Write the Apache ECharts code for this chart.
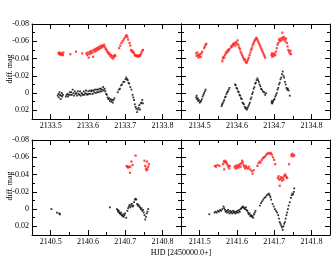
<!DOCTYPE html>
<html><head><meta charset="utf-8">
<script src="https://cdn.jsdelivr.net/npm/echarts@6/dist/echarts.min.js"></script>
<style>html,body{margin:0;padding:0;background:#fff}#c{width:332px;height:266px}</style>
</head><body><div id="c"></div>
<script>
// ---- data ----
const tlRange = [2133.45, 2133.85];
const trRange = [2134.45, 2134.85];
const blRange = [2140.45, 2140.85];
const brRange = [2141.45, 2141.85];
const tlXTicks = [2133.5, 2133.6, 2133.7, 2133.8];
const trXTicks = [2134.5, 2134.6, 2134.7, 2134.8];
const blXTicks = [2140.5, 2140.6, 2140.7, 2140.8];
const brXTicks = [2141.5, 2141.6, 2141.7, 2141.8];
const tlXMinor = [2133.55, 2133.65, 2133.75];
const trXMinor = [2134.55, 2134.65, 2134.75];
const blXMinor = [2140.55, 2140.65, 2140.75];
const brXMinor = [2141.55, 2141.65, 2141.75];
const yRange = [-0.08, 0.03];
const yTicks = [-0.08, -0.06, -0.04, -0.02, 0, 0.02];
const yMinor = [-0.07, -0.05, -0.03, -0.01, 0.01];
const yTitle = 'diff. mag';
const xTitle = 'HJD [2450000.0+]';

const tlBlack = [[2133.519,0.003],[2133.521,0.001],[2133.522,0.005],[2133.524,-0.001],[2133.525,0.002],[2133.527,0.007],[2133.528,0.003],[2133.530,0.000],[2133.531,0.004],[2133.533,0.002],
[2133.541,0.004],[2133.543,0.002],[2133.545,0.001],[2133.547,0.004],[2133.549,0.002],[2133.551,-0.001],[2133.553,0.002],[2133.555,-0.001],[2133.557,0.002],[2133.559,-0.004],[2133.561,0.000],[2133.563,0.003],[2133.565,-0.002],[2133.567,0.001],[2133.569,0.000],[2133.571,0.003],[2133.573,-0.002],[2133.575,0.001],[2133.577,0.002],[2133.579,-0.002],[2133.581,0.003],[2133.583,0.000],[2133.585,0.001],[2133.587,0.002],[2133.589,-0.002],[2133.591,0.002],[2133.593,0.000],[2133.595,-0.003],[2133.597,0.001],[2133.599,0.002],[2133.601,-0.002],[2133.603,0.001],[2133.605,-0.003],[2133.607,0.001],[2133.609,-0.002],[2133.611,-0.003],[2133.613,0.001],[2133.615,-0.003],[2133.617,-0.001],[2133.619,-0.004],[2133.621,0.000],[2133.623,-0.004],[2133.625,-0.001],[2133.627,-0.004],[2133.629,-0.001],[2133.631,-0.005],[2133.633,-0.002],[2133.635,-0.005],[2133.637,-0.002],[2133.639,-0.004],[2133.641,-0.007],[2133.643,-0.003],[2133.645,-0.005],[2133.647,-0.002],
[2133.649,0.001],[2133.651,0.002],[2133.653,0.005],[2133.655,0.007],[2133.657,0.006],[2133.659,0.009],[2133.661,0.007],[2133.663,0.010],[2133.665,0.008],[2133.667,0.011],[2133.669,0.008],[2133.671,0.006],
[2133.680,-0.001],[2133.683,-0.004],[2133.686,-0.005],[2133.689,-0.009],[2133.692,-0.010],[2133.695,-0.013],[2133.698,-0.013],[2133.701,-0.016],[2133.703,-0.018],[2133.705,-0.016],[2133.707,-0.015],[2133.709,-0.012],[2133.711,-0.011],
[2133.714,-0.007],[2133.717,-0.004],[2133.720,0.002],[2133.722,0.005],[2133.724,0.008],[2133.726,0.013],[2133.728,0.016],[2133.730,0.018],[2133.732,0.022],[2133.734,0.019],[2133.736,0.017],[2133.738,0.014],[2133.740,0.019],[2133.742,0.012],[2133.744,0.011],[2133.746,0.008],[2133.748,0.012]];

const tlRed = [[2133.521,-0.046],[2133.523,-0.047],[2133.524,-0.045],[2133.526,-0.046],[2133.527,-0.044],[2133.529,-0.046],[2133.531,-0.045],[2133.533,-0.044],[2133.534,-0.047],
[2133.553,-0.045],[2133.568,-0.048],[2133.585,-0.046],
[2133.596,-0.046],[2133.598,-0.044],[2133.600,-0.047],[2133.602,-0.041],[2133.604,-0.045],[2133.606,-0.048],[2133.608,-0.046],[2133.610,-0.049],[2133.612,-0.047],[2133.614,-0.042],[2133.616,-0.050],[2133.618,-0.048],[2133.620,-0.051],[2133.622,-0.049],[2133.624,-0.052],[2133.626,-0.050],[2133.628,-0.053],[2133.630,-0.051],[2133.632,-0.054],[2133.634,-0.052],[2133.636,-0.055],[2133.638,-0.053],[2133.640,-0.055],[2133.642,-0.054],[2133.644,-0.056],[2133.646,-0.053],[2133.648,-0.051],[2133.650,-0.050],[2133.652,-0.048],[2133.654,-0.047],[2133.656,-0.045],[2133.658,-0.046],[2133.660,-0.043],[2133.662,-0.044],[2133.664,-0.041],[2133.666,-0.043],[2133.668,-0.040],[2133.670,-0.042],[2133.672,-0.044],[2133.674,-0.043],
[2133.684,-0.052],[2133.687,-0.055],[2133.690,-0.058],[2133.693,-0.060],[2133.696,-0.062],[2133.699,-0.064],[2133.702,-0.066],[2133.704,-0.067],[2133.706,-0.065],[2133.708,-0.062],
[2133.712,-0.058],[2133.714,-0.055],[2133.716,-0.050],[2133.718,-0.048],[2133.720,-0.049],[2133.722,-0.047],[2133.724,-0.046],[2133.726,-0.044],[2133.728,-0.043],[2133.730,-0.044],[2133.732,-0.043],[2133.734,-0.042],[2133.736,-0.043],[2133.738,-0.044],[2133.740,-0.043],[2133.742,-0.045],[2133.744,-0.047],[2133.746,-0.049],[2133.748,-0.050]];

const trBlack = [[2134.491,0.005],[2134.492,0.003],[2134.493,0.007],[2134.495,0.006],[2134.496,0.009],[2134.498,0.008],[2134.500,0.011],[2134.502,0.010],[2134.504,0.009],[2134.506,0.007],[2134.508,0.004],[2134.510,0.002],[2134.512,0.000],[2134.514,-0.002],[2134.516,-0.004],
[2134.559,0.015],[2134.560,0.013],[2134.562,0.012],[2134.564,0.010],[2134.566,0.008],[2134.568,0.005],[2134.570,0.004],[2134.572,0.001],[2134.574,-0.001],[2134.576,-0.002],[2134.578,-0.004],[2134.580,-0.006],
[2134.595,-0.010],[2134.597,-0.009],[2134.599,-0.006],[2134.601,-0.005],[2134.603,-0.002],[2134.605,-0.001],[2134.607,0.002],[2134.609,0.003],[2134.611,0.006],[2134.613,0.007],[2134.615,0.011],[2134.617,0.012],[2134.619,0.013],[2134.621,0.016],[2134.623,0.018],[2134.625,0.017],[2134.627,0.019],[2134.629,0.017],[2134.631,0.015],
[2134.633,0.013],[2134.635,0.011],[2134.637,0.007],[2134.639,0.005],[2134.641,0.001],[2134.643,-0.001],[2134.645,-0.005],[2134.647,-0.007],[2134.649,-0.011],[2134.651,-0.012],[2134.653,-0.015],[2134.655,-0.017],[2134.657,-0.015],[2134.659,-0.013],[2134.661,-0.010],[2134.663,-0.008],[2134.665,-0.005],[2134.667,-0.004],[2134.670,-0.002],[2134.673,-0.001],[2134.676,0.002],[2134.678,0.000],
[2134.693,0.011],[2134.694,0.009],[2134.695,0.012],[2134.697,0.010],[2134.699,0.008],[2134.701,0.007],[2134.703,0.004],[2134.705,0.002],[2134.707,0.000],[2134.709,-0.004],[2134.711,-0.006],[2134.713,-0.010],[2134.715,-0.012],[2134.717,-0.016],[2134.719,-0.018],[2134.721,-0.022],[2134.723,-0.025],[2134.725,-0.020],[2134.727,-0.018],[2134.729,-0.013],[2134.731,-0.010],[2134.733,-0.006],[2134.735,-0.004],[2134.737,-0.005],[2134.739,-0.003],[2134.742,0.003]];

const trRed = [[2134.491,-0.046],[2134.492,-0.043],[2134.494,-0.047],[2134.496,-0.044],[2134.497,-0.041],[2134.499,-0.043],[2134.501,-0.045],[2134.503,-0.042],[2134.505,-0.046],[2134.507,-0.048],[2134.512,-0.052],[2134.514,-0.054],[2134.516,-0.056],[2134.518,-0.057],
[2134.561,-0.037],[2134.562,-0.040],[2134.564,-0.042],[2134.566,-0.041],[2134.568,-0.044],[2134.570,-0.046],[2134.572,-0.048],[2134.574,-0.047],[2134.576,-0.050],[2134.578,-0.049],[2134.580,-0.051],
[2134.584,-0.053],[2134.586,-0.055],[2134.588,-0.054],[2134.590,-0.057],[2134.592,-0.056],[2134.594,-0.058],[2134.596,-0.055],[2134.598,-0.059],[2134.600,-0.057],[2134.602,-0.061],[2134.604,-0.056],
[2134.606,-0.053],[2134.608,-0.051],[2134.610,-0.048],[2134.612,-0.046],[2134.614,-0.044],[2134.616,-0.042],[2134.618,-0.040],[2134.620,-0.038],[2134.622,-0.039],[2134.624,-0.036],[2134.626,-0.035],[2134.628,-0.037],
[2134.630,-0.039],[2134.632,-0.041],[2134.634,-0.044],[2134.636,-0.047],[2134.638,-0.050],[2134.640,-0.052],[2134.642,-0.055],[2134.644,-0.057],[2134.646,-0.059],[2134.648,-0.061],[2134.650,-0.062],[2134.652,-0.064],[2134.654,-0.063],[2134.656,-0.061],
[2134.658,-0.059],[2134.660,-0.057],[2134.662,-0.055],[2134.664,-0.053],[2134.666,-0.051],[2134.668,-0.049],[2134.670,-0.047],[2134.672,-0.045],[2134.674,-0.043],[2134.676,-0.041],
[2134.693,-0.044],[2134.694,-0.046],[2134.695,-0.042],[2134.697,-0.045],[2134.699,-0.043],[2134.701,-0.046],[2134.703,-0.044],[2134.705,-0.048],
[2134.707,-0.052],[2134.709,-0.056],[2134.711,-0.058],[2134.713,-0.062],[2134.715,-0.060],[2134.717,-0.063],[2134.719,-0.061],[2134.721,-0.064],[2134.722,-0.070],[2134.724,-0.062],[2134.726,-0.065],[2134.728,-0.063],[2134.730,-0.060],[2134.732,-0.063],[2134.734,-0.058],
[2134.736,-0.054],[2134.738,-0.050],[2134.740,-0.048],[2134.742,-0.046],[2134.744,-0.049],[2134.745,-0.045]];

const blBlack = [[2140.502,0.000],[2140.517,0.004],[2140.523,0.005],[2140.525,0.006],
[2140.659,-0.002],
[2140.678,0.000],[2140.680,0.001],[2140.681,0.003],[2140.683,0.002],[2140.684,0.004],[2140.686,0.005],[2140.688,0.006],[2140.689,0.004],[2140.691,0.007],[2140.693,0.008],[2140.695,0.006],[2140.696,0.009],[2140.698,0.007],[2140.700,0.005],[2140.703,0.010],
[2140.706,0.002],[2140.708,-0.001],[2140.710,-0.003],[2140.712,-0.005],[2140.714,-0.002],[2140.716,-0.004],[2140.718,-0.006],[2140.720,-0.003],[2140.722,-0.004],[2140.724,-0.008],[2140.726,-0.011],[2140.728,-0.012],[2140.730,-0.011],[2140.732,-0.006],[2140.734,-0.004],[2140.736,-0.005],[2140.738,-0.003],[2140.740,-0.002],[2140.742,0.000],[2140.744,-0.001],[2140.746,0.002],[2140.748,0.001],[2140.750,0.004],[2140.752,0.007],[2140.754,0.012],[2140.756,0.009],[2140.758,0.005],[2140.760,0.003],[2140.762,0.000]];

const blRed = [[2140.704,-0.050],[2140.706,-0.049],[2140.708,-0.048],[2140.710,-0.049],[2140.713,-0.042],[2140.714,-0.049],[2140.717,-0.055],[2140.720,-0.051],[2140.728,-0.062],
[2140.752,-0.056],[2140.754,-0.050],[2140.756,-0.047],[2140.757,-0.045],[2140.759,-0.055],[2140.760,-0.046],[2140.762,-0.049],[2140.764,-0.052]];

const brBlack = [[2141.526,0.006],[2141.540,0.004],[2141.543,0.003],[2141.546,0.004],[2141.549,0.002],[2141.552,0.003],[2141.555,0.001],[2141.558,0.002],[2141.561,0.000],[2141.564,-0.003],[2141.566,-0.001],[2141.568,0.001],[2141.570,0.003],[2141.572,0.002],[2141.574,0.004],[2141.576,0.001],[2141.578,0.003],[2141.580,0.005],[2141.582,0.002],[2141.584,0.004],[2141.586,0.003],[2141.588,0.005],[2141.590,0.002],[2141.592,0.004],[2141.594,0.003],[2141.596,0.005],[2141.598,0.003],[2141.600,0.004],[2141.602,0.002],[2141.604,0.004],[2141.606,0.001],[2141.608,0.003],[2141.610,0.000],[2141.612,-0.001],[2141.614,-0.002],[2141.616,-0.003],[2141.618,-0.002],[2141.620,-0.001],[2141.622,0.000],[2141.624,-0.002],[2141.626,0.001],[2141.628,0.002],[2141.630,0.004],[2141.632,0.006],[2141.634,0.005],[2141.636,0.008],[2141.638,0.007],[2141.640,0.009],[2141.642,0.008],[2141.644,0.010],[2141.646,0.006],[2141.648,0.004],[2141.650,0.002],
[2141.662,-0.004],[2141.665,-0.007],[2141.668,-0.009],[2141.671,-0.011],[2141.674,-0.013],[2141.677,-0.014],[2141.680,-0.016],[2141.683,-0.017],[2141.686,-0.018],[2141.688,-0.016],[2141.690,-0.014],[2141.692,-0.011],
[2141.696,-0.006],[2141.699,-0.003],[2141.702,0.000],[2141.705,0.002],[2141.708,0.004],[2141.711,0.007],[2141.713,0.011],[2141.715,0.015],[2141.717,0.017],[2141.719,0.019],[2141.721,0.021],[2141.723,0.024],[2141.725,0.020],[2141.727,0.017],[2141.729,0.015],[2141.731,0.011],[2141.733,0.007],[2141.735,0.004],[2141.737,0.000],[2141.739,-0.004],[2141.742,-0.008],[2141.745,-0.013],[2141.747,-0.016],[2141.749,-0.018],[2141.751,-0.017],[2141.753,-0.020],[2141.754,-0.024]];

const brRed = [[2141.541,-0.050],[2141.544,-0.049],[2141.548,-0.051],[2141.553,-0.050],
[2141.563,-0.052],[2141.565,-0.055],[2141.567,-0.056],[2141.569,-0.054],[2141.571,-0.055],[2141.573,-0.053],[2141.575,-0.051],[2141.566,-0.046],[2141.577,-0.049],[2141.579,-0.047],[2141.581,-0.050],
[2141.594,-0.048],[2141.596,-0.050],[2141.598,-0.047],[2141.600,-0.049],[2141.602,-0.051],[2141.604,-0.048],[2141.606,-0.050],[2141.608,-0.052],[2141.610,-0.049],[2141.612,-0.053],[2141.614,-0.056],[2141.616,-0.054],[2141.618,-0.051],[2141.620,-0.049],[2141.622,-0.047],[2141.624,-0.050],[2141.626,-0.048],
[2141.630,-0.047],[2141.632,-0.049],[2141.636,-0.046],[2141.640,-0.044],[2141.642,-0.041],[2141.645,-0.045],
[2141.655,-0.050],[2141.658,-0.053],[2141.661,-0.055],[2141.664,-0.054],[2141.667,-0.057],[2141.670,-0.059],[2141.673,-0.060],[2141.676,-0.061],[2141.679,-0.063],[2141.682,-0.064],[2141.685,-0.065],[2141.688,-0.064],[2141.691,-0.065],[2141.694,-0.063],[2141.697,-0.060],[2141.700,-0.057],[2141.703,-0.052],
[2141.710,-0.036],[2141.712,-0.038],[2141.714,-0.034],[2141.715,-0.027],[2141.717,-0.035],[2141.719,-0.037],[2141.721,-0.033],[2141.723,-0.036],[2141.725,-0.034],[2141.727,-0.038],[2141.729,-0.040],[2141.731,-0.039],[2141.733,-0.037],[2141.735,-0.036],
[2141.740,-0.052],[2141.746,-0.062],[2141.748,-0.064],[2141.750,-0.061],[2141.752,-0.063],[2141.754,-0.062]];

// ---- layout ----
const FONT = 'Liberation Serif';
const panels = [
  {grid:{left:32,top:24,width:149,height:95}, xr:tlRange, xt:tlXTicks, xm:tlXMinor, black:tlBlack, red:tlRed, yLabels:true},
  {grid:{left:181,top:24,width:149,height:95}, xr:trRange, xt:trXTicks, xm:trXMinor, black:trBlack, red:trRed, yLabels:false},
  {grid:{left:32,top:140,width:149,height:95}, xr:blRange, xt:blXTicks, xm:blXMinor, black:blBlack, red:blRed, yLabels:true},
  {grid:{left:181,top:140,width:149,height:95}, xr:brRange, xt:brXTicks, xm:brXMinor, black:brBlack, red:brRed, yLabels:false}
];
const lineStyle = {color:'#000', width:1};
const grids = [], xAxes = [], yAxes = [], series = [];
panels.forEach((p, gi) => {
  grids.push(Object.assign({containLabel:false}, p.grid));
  const xBase = {type:'value', gridIndex:gi, min:p.xr[0], max:p.xr[1], splitLine:{show:false}};
  const mk = (base, pos, ticks, len, showLine, labels, fmt) => Object.assign({}, base, {
    position:pos,
    axisLine:{show:showLine, onZero:false, lineStyle},
    axisTick:{show:true, inside:true, length:len, customValues:ticks, lineStyle},
    axisLabel:labels ? {show:true, customValues:ticks, formatter:fmt, color:'#000', fontFamily:FONT, fontSize:8, margin:3} : {show:false}
  });
  const xf = v => Number(v).toFixed(1);
  xAxes.push(mk(xBase,'bottom',p.xt,5,true,true,xf));
  xAxes.push(mk(xBase,'bottom',p.xm,3,false,false));
  xAxes.push(mk(xBase,'top',p.xt,5,true,false));
  xAxes.push(mk(xBase,'top',p.xm,3,false,false));
  const yBase = {type:'value', gridIndex:gi, min:yRange[0], max:yRange[1], inverse:true, splitLine:{show:false}};
  const yf = v => (Math.abs(v) < 1e-9 ? '0' : Number(v).toFixed(2));
  yAxes.push(mk(yBase,'left',yTicks,5,true,p.yLabels,yf));
  yAxes.push(mk(yBase,'left',yMinor,3,false,false));
  yAxes.push(mk(yBase,'right',yTicks,5,true,false));
  yAxes.push(mk(yBase,'right',yMinor,3,false,false));
  series.push({type:'scatter', xAxisIndex:gi*4, yAxisIndex:gi*4, data:p.black, symbol:'rect', symbolSize:1.8, itemStyle:{color:'#000'}, silent:true});
  series.push({type:'scatter', xAxisIndex:gi*4, yAxisIndex:gi*4, data:p.red, symbol:'rect', symbolSize:2.2, itemStyle:{color:'#ff1a1a'}, silent:true});
});

const chart = echarts.init(document.getElementById('c'), null, {renderer:'canvas'});
chart.setOption({
  animation:false,
  backgroundColor:'#fff',
  grid:grids, xAxis:xAxes, yAxis:yAxes, series:series,
  graphic:[
    {type:'text', x:10, y:69, rotation:Math.PI/2, style:{text:yTitle, font:'8px "'+FONT+'"', fill:'#000', textAlign:'center', textVerticalAlign:'middle'}},
    {type:'text', x:10, y:186, rotation:Math.PI/2, style:{text:yTitle, font:'8px "'+FONT+'"', fill:'#000', textAlign:'center', textVerticalAlign:'middle'}},
    {type:'text', x:181, y:253, style:{text:xTitle, font:'8px "'+FONT+'"', fill:'#000', textAlign:'center', textVerticalAlign:'middle'}}
  ]
});
</script></body></html>
